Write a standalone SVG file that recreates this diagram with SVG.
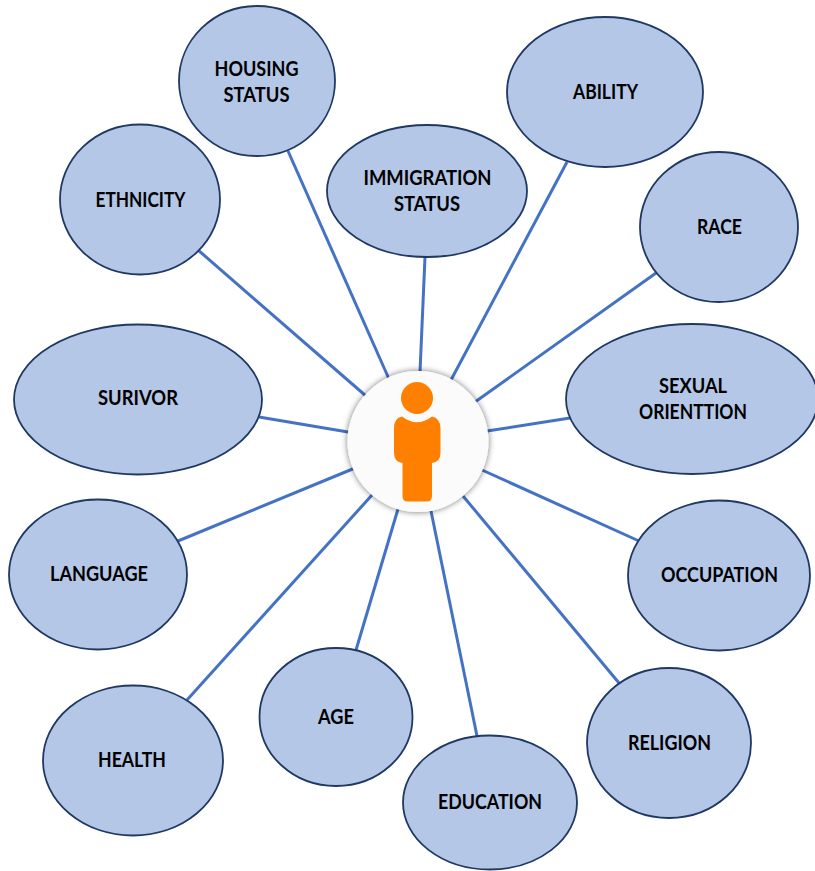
<svg xmlns="http://www.w3.org/2000/svg" width="815" height="871" viewBox="0 0 815 871">
<defs><filter id="s" x="-20%" y="-20%" width="140%" height="140%"><feDropShadow dx="0" dy="0" stdDeviation="3" flood-color="#000" flood-opacity="0.55"/></filter></defs>
<style>
.n{fill:#b4c7e7;stroke:#1f3864;stroke-width:1.8}
.t{font-family:Lato,"Open Sans","Liberation Sans",sans-serif;font-size:21.500px;font-weight:700;fill:#000;text-anchor:middle}
#connectors line{stroke:#4472c4;stroke-width:3}
</style>
<rect width="815" height="871" fill="#fff"/>
<g id="connectors">
<line x1="288" y1="151" x2="389" y2="379"/>
<line x1="198" y1="250" x2="366" y2="396"/>
<line x1="425" y1="257" x2="420" y2="372"/>
<line x1="567" y1="162" x2="451" y2="380"/>
<line x1="656" y1="273" x2="475" y2="402"/>
<line x1="570" y1="418" x2="487" y2="431"/>
<line x1="639" y1="541" x2="482" y2="470"/>
<line x1="619" y1="683" x2="463" y2="496"/>
<line x1="477" y1="736" x2="431" y2="511"/>
<line x1="356" y1="650" x2="398" y2="509"/>
<line x1="187" y1="700" x2="372" y2="495"/>
<line x1="178" y1="541" x2="355" y2="468"/>
<line x1="259" y1="417" x2="348" y2="432"/>
</g>
<g id="housing"><ellipse class="n" cx="257" cy="81" rx="78" ry="75"/><text class="t" x="256.500" y="76" textLength="84" lengthAdjust="spacingAndGlyphs">HOUSING</text><text class="t" x="256.500" y="102" textLength="66" lengthAdjust="spacingAndGlyphs">STATUS</text></g>
<g id="ethnicity"><ellipse class="n" cx="140" cy="199.500" rx="80" ry="75"/><text class="t" x="140.500" y="207" textLength="90" lengthAdjust="spacingAndGlyphs">ETHNICITY</text></g>
<g id="immigration"><ellipse class="n" cx="427" cy="191" rx="100" ry="66"/><text class="t" x="427.500" y="185" textLength="128" lengthAdjust="spacingAndGlyphs">IMMIGRATION</text><text class="t" x="427" y="211" textLength="66" lengthAdjust="spacingAndGlyphs">STATUS</text></g>
<g id="ability"><ellipse class="n" cx="605" cy="92" rx="98" ry="75"/><text class="t" x="605.500" y="99" textLength="65" lengthAdjust="spacingAndGlyphs">ABILITY</text></g>
<g id="race"><ellipse class="n" cx="719" cy="227" rx="79" ry="75"/><text class="t" x="719.500" y="234" textLength="45" lengthAdjust="spacingAndGlyphs">RACE</text></g>
<g id="sexual"><ellipse class="n" cx="692" cy="399" rx="126" ry="75"/><text class="t" x="693" y="393" textLength="68" lengthAdjust="spacingAndGlyphs">SEXUAL</text><text class="t" x="693" y="419" textLength="108" lengthAdjust="spacingAndGlyphs">ORIENTTION</text></g>
<g id="occupation"><ellipse class="n" cx="719" cy="575.500" rx="91" ry="75"/><text class="t" x="719.500" y="582" textLength="117" lengthAdjust="spacingAndGlyphs">OCCUPATION</text></g>
<g id="religion"><ellipse class="n" cx="669" cy="743" rx="82" ry="75"/><text class="t" x="669.500" y="750" textLength="83" lengthAdjust="spacingAndGlyphs">RELIGION</text></g>
<g id="education"><ellipse class="n" cx="490" cy="802.500" rx="87" ry="67"/><text class="t" x="490" y="809" textLength="104" lengthAdjust="spacingAndGlyphs">EDUCATION</text></g>
<g id="age"><ellipse class="n" cx="336" cy="717" rx="76.500" ry="69"/><text class="t" x="336" y="724" textLength="36" lengthAdjust="spacingAndGlyphs">AGE</text></g>
<g id="health"><ellipse class="n" cx="133" cy="760.500" rx="90" ry="75"/><text class="t" x="132" y="767" textLength="68" lengthAdjust="spacingAndGlyphs">HEALTH</text></g>
<g id="language"><ellipse class="n" cx="98" cy="574.500" rx="89" ry="75"/><text class="t" x="99" y="581" textLength="98" lengthAdjust="spacingAndGlyphs">LANGUAGE</text></g>
<g id="survivor"><ellipse class="n" cx="138" cy="399.500" rx="124" ry="75"/><text class="t" x="138" y="405" textLength="80" lengthAdjust="spacingAndGlyphs">SURIVOR</text></g>
<g id="person">
<circle cx="418" cy="441.500" r="70.500" fill="#fbfbfb" filter="url(#s)"/>
<circle cx="417" cy="398" r="16" fill="#ff8000"/>
<path d="M402 416.500Q417 428 432 416.500Q440 418 440.500 428V453Q440.500 462 432 463V496Q432 501.500 427 501.500H407.500Q402.500 501.500 402.500 496V463Q394 462 394 453V428Q394 418 402 416.500Z" fill="#ff8000"/>
</g>
</svg>
